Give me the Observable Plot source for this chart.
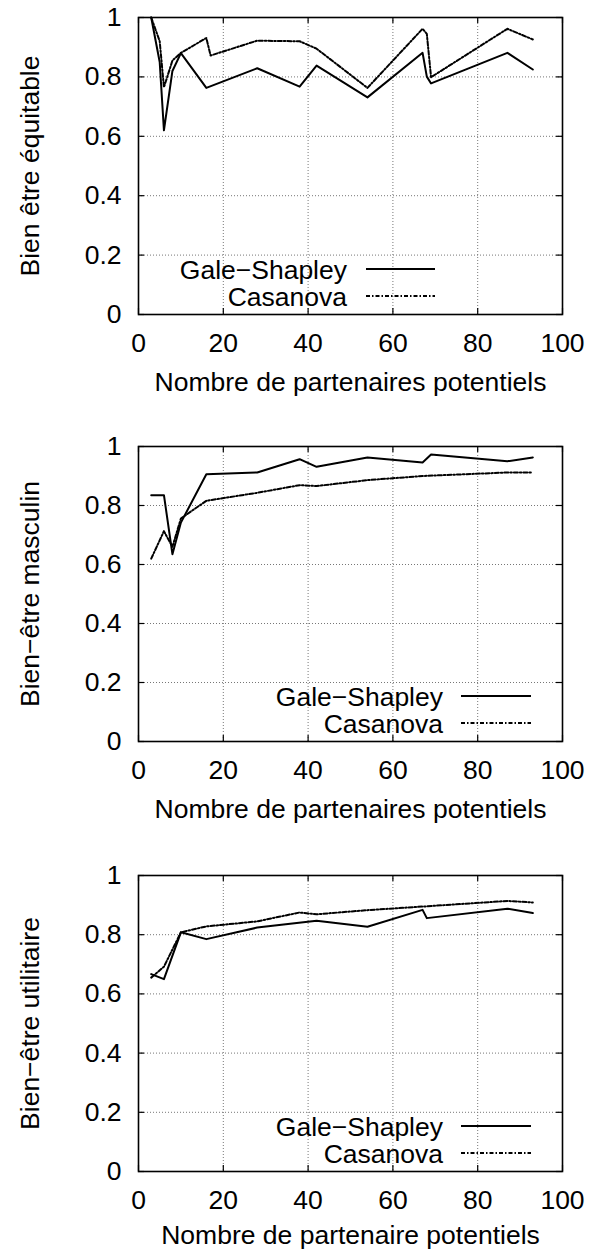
<!DOCTYPE html>
<html>
<head>
<meta charset="utf-8">
<script src="https://cdn.jsdelivr.net/npm/d3@7"></script>
<script src="https://cdn.jsdelivr.net/npm/@observablehq/plot@0.6"></script>
<style>
  body { margin: 0; background: #fff; }
  #charts svg { display: block; }
</style>
</head>
<body>
<div id="charts"></div>
<script>
// ---- tick values ----
const xTicks = [0, 20, 40, 60, 80, 100];
const yTicks = [0, 0.2, 0.4, 0.6, 0.8, 1];
const seriesNames = ["Gale−Shapley", "Casanova"];

// ---- panel 1 : Bien être équitable ----
const gsX1 = [3, 5, 6, 8, 10, 16, 28, 38, 42, 54, 67, 68, 69, 87, 93];
const gsY1 = [1.0, 0.85, 0.62, 0.82, 0.88, 0.763, 0.829, 0.767, 0.838, 0.731, 0.881, 0.801, 0.778, 0.881, 0.825];
const caX1 = [3, 5, 6, 8, 10, 16, 17, 28, 38, 42, 54, 67, 68, 69, 87, 93];
const caY1 = [1.0, 0.92, 0.765, 0.855, 0.881, 0.931, 0.872, 0.922, 0.920, 0.895, 0.763, 0.962, 0.945, 0.799, 0.962, 0.926];

// ---- panel 2 : Bien−être masculin ----
const gsX2 = [3, 6, 8, 10, 16, 28, 38, 42, 54, 67, 69, 87, 93];
const gsY2 = [0.835, 0.835, 0.635, 0.742, 0.906, 0.912, 0.957, 0.931, 0.963, 0.946, 0.973, 0.950, 0.963];
const caX2 = [3, 6, 8, 10, 16, 28, 38, 42, 54, 67, 87, 93];
const caY2 = [0.62, 0.713, 0.66, 0.756, 0.816, 0.843, 0.869, 0.866, 0.886, 0.900, 0.912, 0.912];

// ---- panel 3 : Bien−être utilitaire ----
const gsX3 = [3, 6, 10, 16, 28, 42, 54, 67, 68, 87, 93];
const gsY3 = [0.667, 0.650, 0.808, 0.785, 0.824, 0.847, 0.827, 0.884, 0.856, 0.888, 0.873];
const caX3 = [3, 6, 10, 16, 28, 38, 42, 54, 67, 87, 93];
const caY3 = [0.655, 0.692, 0.808, 0.828, 0.845, 0.875, 0.869, 0.883, 0.895, 0.914, 0.909];

const yLabels = ["Bien être équitable", "Bien−être masculin", "Bien−être utilitaire"];
const xLabels = ["Nombre de partenaires potentiels", "Nombre de partenaires potentiels", "Nombre de partenaire potentiels"];

// ---- layout ----
const W = 598;
const FONT = "'Liberation Sans', Arial, Helvetica, sans-serif";
const FS = 26.5;
const layouts = [
  {height: 431, marginTop: 17, marginBottom: 117, legendTextEnd: 209, legendLine: [228, 297], xLabelDy: 68},
  {height: 429, marginTop: 15, marginBottom: 119, legendTextEnd: 305, legendLine: [323, 393], xLabelDy: 68},
  {height: 392, marginTop: 15, marginBottom: 81,  legendTextEnd: 305, legendLine: [323, 393], xLabelDy: 64}
];
const marginLeft = 138, marginRight = 36;
const gsDash = null, caDash = "4,2,1.5,2";

const series = [
  [gsX1, gsY1, caX1, caY1],
  [gsX2, gsY2, caX2, caY2],
  [gsX3, gsY3, caX3, caY3]
];

const container = document.getElementById("charts");

series.forEach(([gx, gy, cx, cy], i) => {
  const L = layouts[i];
  const innerW = W - marginLeft - marginRight;
  const innerH = L.height - L.marginTop - L.marginBottom;
  const gs = gx.map((x, j) => ({x, y: gy[j]}));
  const ca = cx.map((x, j) => ({x, y: cy[j]}));
  const tk = 6;
  const svg = Plot.plot({
    width: W,
    height: L.height,
    marginLeft, marginRight,
    marginTop: L.marginTop,
    marginBottom: L.marginBottom,
    style: {fontFamily: FONT, fontSize: FS + "px", color: "black", background: "white"},
    x: {domain: [0, 100], ticks: xTicks, tickSize: 0, tickPadding: 19, label: null, tickFormat: d => String(d)},
    y: {domain: [0, 1], ticks: yTicks, tickSize: 0, tickPadding: 17, label: null, tickFormat: d => String(d)},
    marks: [
      Plot.ruleX(xTicks, {x: d => d, stroke: "#777", strokeWidth: 1, strokeDasharray: "1,2"}),
      Plot.ruleY(yTicks, {y: d => d, stroke: "#777", strokeWidth: 1, strokeDasharray: "1,2"}),
      Plot.tickX(xTicks, {x: d => d, insetTop: innerH - tk, stroke: "black", strokeWidth: 1.2}),
      Plot.tickX(xTicks, {x: d => d, insetBottom: innerH - tk, stroke: "black", strokeWidth: 1.2}),
      Plot.tickY(yTicks, {y: d => d, insetRight: innerW - tk, stroke: "black", strokeWidth: 1.2}),
      Plot.tickY(yTicks, {y: d => d, insetLeft: innerW - tk, stroke: "black", strokeWidth: 1.2}),
      Plot.line(ca, {x: "x", y: "y", stroke: "black", strokeWidth: 2, strokeDasharray: caDash}),
      Plot.line(gs, {x: "x", y: "y", stroke: "black", strokeWidth: 2}),
      Plot.frame({stroke: "black", strokeWidth: 1.6}),
      Plot.text([yLabels[i]], {text: d => d, frameAnchor: "left", dx: -108, rotate: -90, textAnchor: "middle", lineAnchor: "middle", fontSize: FS, fill: "black"}),
      Plot.text([xLabels[i]], {text: d => d, frameAnchor: "bottom", dy: L.xLabelDy, textAnchor: "middle", lineAnchor: "middle", fontSize: FS, fill: "black"})
    ]
  });

  // legend (inside the plot frame, bottom area)
  const bottom = L.height - L.marginBottom;
  const g = d3.select(svg).append("g").attr("class", "legend")
    .attr("font-family", FONT).attr("font-size", FS);
  const rows = [
    {name: seriesNames[0], dy: -45, dash: gsDash, sw: 2},
    {name: seriesNames[1], dy: -18, dash: caDash, sw: 1.8}
  ];
  rows.forEach(r => {
    const y = bottom + r.dy;
    g.append("text")
      .attr("x", marginLeft + L.legendTextEnd)
      .attr("y", y)
      .attr("dy", "0.36em")
      .attr("text-anchor", "end")
      .attr("fill", "black")
      .text(r.name);
    const ln = g.append("line")
      .attr("x1", marginLeft + L.legendLine[0])
      .attr("x2", marginLeft + L.legendLine[1])
      .attr("y1", y).attr("y2", y)
      .attr("stroke", "black")
      .attr("stroke-width", r.sw);
    if (r.dash) ln.attr("stroke-dasharray", r.dash);
  });

  container.appendChild(svg);
});
</script>
</body>
</html>
